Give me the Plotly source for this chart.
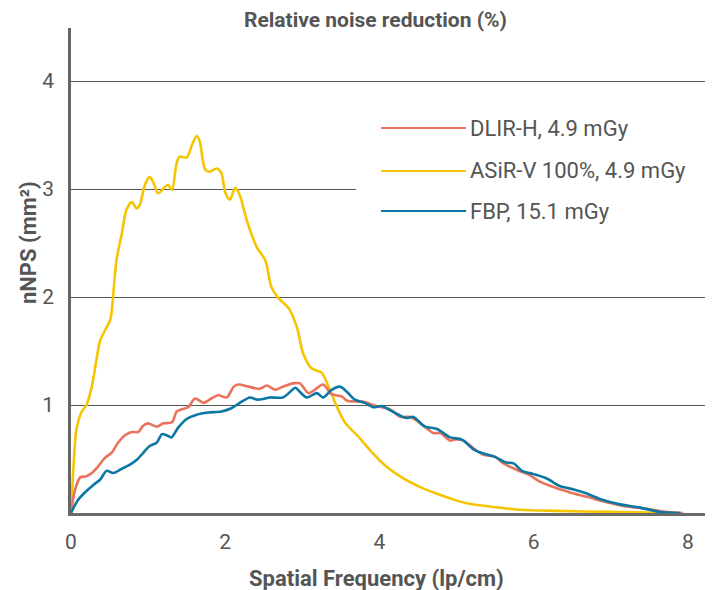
import plotly.graph_objects as go

# Spatial frequency (lp/cm) and nNPS (mm^2)
asir_x = [0.00, 0.03, 0.07, 0.14, 0.20, 0.27, 0.33, 0.38, 0.44, 0.51, 0.55, 0.59, 0.66, 0.72, 0.79, 0.85,
          0.89, 0.96, 1.02, 1.07, 1.13, 1.22, 1.26, 1.31, 1.37, 1.41, 1.50, 1.57, 1.63, 1.67, 1.74, 1.80,
          1.89, 1.95, 2.00, 2.06, 2.13, 2.19, 2.28, 2.41, 2.52, 2.60, 2.69, 2.82, 2.93, 3.01, 3.12, 3.25,
          3.34, 3.45, 3.56, 3.71, 3.88, 4.09, 4.31, 4.53, 4.74, 4.94, 5.13, 5.43, 5.82, 6.30, 6.95, 7.81]
asir_y = [0.00, 0.40, 0.77, 0.94, 1.00, 1.17, 1.42, 1.60, 1.69, 1.79, 2.04, 2.34, 2.59, 2.81, 2.88, 2.82,
          2.85, 3.04, 3.11, 3.06, 2.96, 3.02, 3.04, 2.99, 3.24, 3.30, 3.29, 3.41, 3.49, 3.44, 3.18, 3.16,
          3.19, 3.15, 2.97, 2.90, 3.01, 2.94, 2.71, 2.46, 2.34, 2.09, 1.99, 1.90, 1.72, 1.48, 1.34, 1.30,
          1.17, 0.98, 0.83, 0.72, 0.58, 0.43, 0.32, 0.24, 0.18, 0.13, 0.09, 0.06, 0.03, 0.02, 0.01, 0.00]

dlir_x = [0.00, 0.05, 0.12, 0.20, 0.27, 0.35, 0.44, 0.53, 0.61, 0.70, 0.79, 0.87, 0.94, 1.00, 1.11, 1.20,
          1.31, 1.37, 1.44, 1.52, 1.61, 1.72, 1.82, 1.91, 2.02, 2.11, 2.17, 2.30, 2.45, 2.54, 2.65, 2.75,
          2.88, 2.97, 3.08, 3.16, 3.27, 3.38, 3.51, 3.58, 3.79, 3.96, 4.14, 4.27, 4.40, 4.57, 4.70, 4.79,
          4.92, 4.98, 5.09, 5.22, 5.35, 5.50, 5.61, 5.78, 5.95, 6.08, 6.26, 6.47, 6.69, 6.95, 7.21, 7.47,
          7.73, 7.94]
dlir_y = [0.00, 0.21, 0.33, 0.34, 0.37, 0.43, 0.51, 0.56, 0.65, 0.72, 0.75, 0.75, 0.81, 0.83, 0.80, 0.83,
          0.84, 0.94, 0.96, 0.98, 1.06, 1.02, 1.06, 1.09, 1.07, 1.17, 1.19, 1.17, 1.15, 1.18, 1.14, 1.17,
          1.20, 1.20, 1.11, 1.14, 1.19, 1.10, 1.08, 1.04, 1.03, 0.99, 0.96, 0.89, 0.89, 0.81, 0.74, 0.74,
          0.67, 0.68, 0.67, 0.60, 0.54, 0.52, 0.46, 0.40, 0.35, 0.29, 0.24, 0.19, 0.15, 0.10, 0.06, 0.04,
          0.01, 0.00]

fbp_x = [0.00, 0.09, 0.18, 0.29, 0.38, 0.46, 0.55, 0.66, 0.77, 0.85, 0.94, 1.02, 1.11, 1.18, 1.24, 1.30,
         1.39, 1.50, 1.63, 1.78, 1.95, 2.08, 2.19, 2.32, 2.41, 2.52, 2.58, 2.75, 2.84, 2.91, 2.97, 3.06,
         3.19, 3.27, 3.38, 3.49, 3.58, 3.68, 3.81, 3.92, 4.03, 4.14, 4.25, 4.35, 4.44, 4.59, 4.74, 4.92,
         5.07, 5.22, 5.35, 5.50, 5.63, 5.74, 5.85, 6.00, 6.17, 6.34, 6.51, 6.69, 6.86, 7.12, 7.38, 7.64,
         7.90]
fbp_y = [0.00, 0.12, 0.19, 0.26, 0.31, 0.39, 0.37, 0.41, 0.45, 0.49, 0.56, 0.62, 0.65, 0.73, 0.72, 0.70,
         0.79, 0.87, 0.91, 0.93, 0.94, 0.97, 1.02, 1.07, 1.05, 1.06, 1.07, 1.07, 1.12, 1.16, 1.12, 1.07,
         1.11, 1.07, 1.14, 1.17, 1.12, 1.05, 1.02, 0.98, 0.99, 0.95, 0.91, 0.88, 0.89, 0.80, 0.78, 0.70,
         0.68, 0.59, 0.55, 0.52, 0.47, 0.46, 0.39, 0.36, 0.32, 0.25, 0.22, 0.18, 0.13, 0.08, 0.05, 0.01,
         0.00]

series_names = ["DLIR-H, 4.9 mGy", "ASiR-V 100%, 4.9 mGy", "FBP, 15.1 mGy"]
series_colors = ["#E9735B", "#F6C500", "#0B78A4"]
x_ticks = [0, 2, 4, 6, 8]
y_ticks = [1, 2, 3, 4]

TEXT = "#555555"
FONT = "Roboto"

fig = go.Figure()
data = [(dlir_x, dlir_y), (asir_x, asir_y), (fbp_x, fbp_y)]
order = [1, 0, 2]  # yellow first, then red, then blue on top
for i in order:
    xs, ys = data[i]
    fig.add_trace(go.Scatter(
        x=xs, y=ys, mode="lines", name=series_names[i],
        line=dict(color=series_colors[i], width=2.6, shape="spline", smoothing=0.8),
        showlegend=False,
    ))

OFF = 8  # page body margin offset
W, H = 706, 582
L, T = 63, 20          # plot area starts at window (71, 28)
R, B = 9, 77           # plot area ends at window (705, 513)
pw, ph = W - L - R, H - T - B

def px(xwin):
    return (xwin - OFF - L) / pw

def py(ywin):
    return (H - B - (ywin - OFF)) / ph

shapes = [
    dict(type="rect", xref="paper", yref="paper", x0=px(356), x1=1.0, y0=py(232), y1=py(106),
         fillcolor="white", line=dict(width=0), layer="above"),
]
annotations = []
legend_rows = [128, 171, 211]
for i, yy in enumerate(legend_rows):
    shapes.append(dict(type="line", xref="paper", yref="paper", x0=px(381), x1=px(466),
                       y0=py(yy), y1=py(yy), line=dict(color=series_colors[i], width=2.2)))
    annotations.append(dict(text=series_names[i], xref="paper", yref="paper", x=px(468), y=py(yy),
                            xanchor="left", yanchor="middle", showarrow=False,
                            font=dict(family=FONT, size=22, color=TEXT)))

annotations += [
    dict(text="<b>Relative noise reduction (%)</b>", xref="paper", yref="paper",
         x=px(375), y=py(20), xanchor="center", yanchor="middle", showarrow=False,
         font=dict(family=FONT, size=21, color=TEXT)),
    dict(text="<b>Spatial Frequency (lp/cm)</b>", xref="paper", yref="paper",
         x=px(376), y=py(578), xanchor="center", yanchor="middle", showarrow=False,
         font=dict(family=FONT, size=22, color=TEXT)),
    dict(text="<b>nNPS (mm²)</b>", xref="paper", yref="paper",
         x=px(28), y=py(243), xanchor="center", yanchor="middle", showarrow=False, textangle=-90,
         font=dict(family=FONT, size=22, color=TEXT)),
]

fig.update_layout(
    width=W, height=H,
    margin=dict(l=L, r=R, t=T, b=B),
    paper_bgcolor="white", plot_bgcolor="white",
    font=dict(family=FONT, color=TEXT),
    shapes=shapes, annotations=annotations,
    showlegend=False,
    xaxis=dict(range=[0, pw / 77.1], tickvals=x_ticks, ticktext=[str(v) for v in x_ticks],
               showgrid=False, zeroline=False, showline=True, linecolor="#6a6a6a", linewidth=3,
               ticks="", ticklabelstandoff=8, tickfont=dict(family=FONT, size=21, color=TEXT)),
    yaxis=dict(range=[0, ph / 108.0], tickvals=y_ticks, ticktext=[str(v) for v in y_ticks],
               showgrid=True, gridcolor="#555555", gridwidth=1.3, zeroline=False,
               showline=True, linecolor="#666666", linewidth=2.5,
               ticks="", ticklabelstandoff=10, tickfont=dict(family=FONT, size=21, color=TEXT)),
)

fig.write_html("out.html")
